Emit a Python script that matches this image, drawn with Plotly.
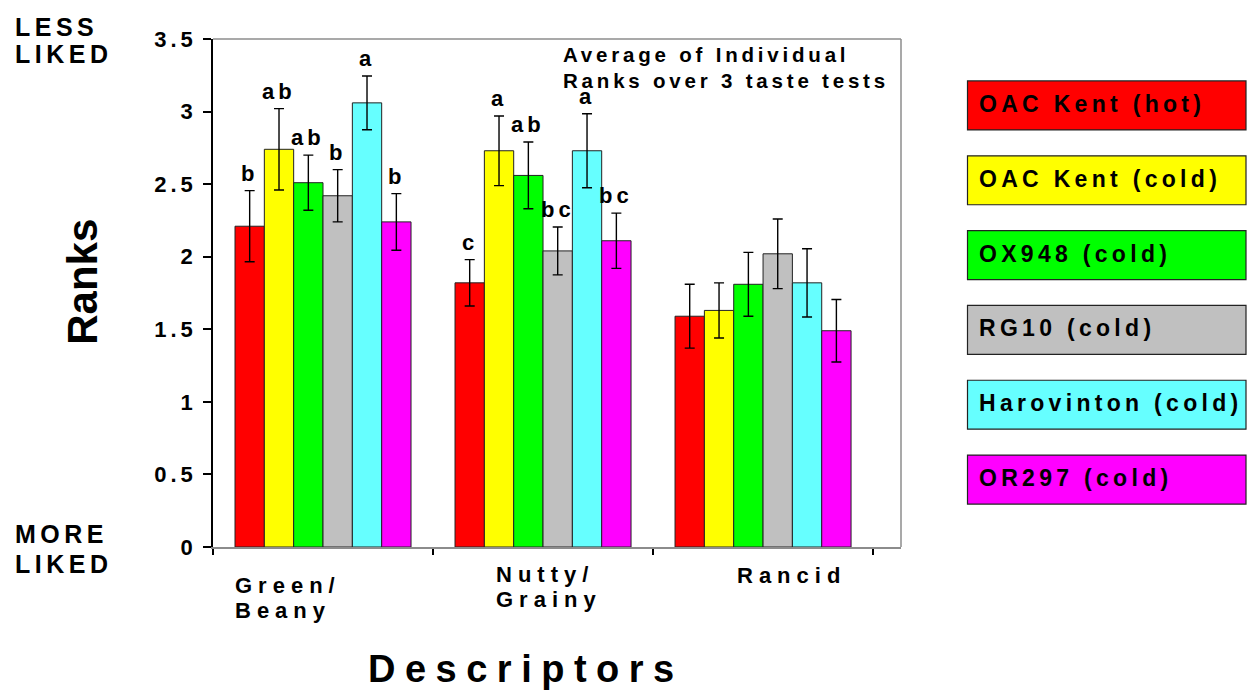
import plotly.graph_objects as go

# ---- data -------------------------------------------------------------
categories = ["Green/ Beany", "Nutty/ Grainy", "Rancid"]
series_names = ["OAC Kent (hot)", "OAC Kent (cold)", "OX948 (cold)",
                "RG10 (cold)", "Harovinton (cold)", "OR297 (cold)"]

oac_kent_hot = [2.21, 1.82, 1.59]
oac_kent_cold = [2.74, 2.73, 1.63]
ox948_cold = [2.51, 2.56, 1.81]
rg10_cold = [2.42, 2.04, 2.02]
harovinton_cold = [3.06, 2.73, 1.82]
or297_cold = [2.24, 2.11, 1.49]

err_oac_kent_hot = [0.245, 0.16, 0.22]
err_oac_kent_cold = [0.28, 0.24, 0.19]
err_ox948_cold = [0.19, 0.23, 0.22]
err_rg10_cold = [0.18, 0.165, 0.24]
err_harovinton_cold = [0.185, 0.255, 0.235]
err_or297_cold = [0.195, 0.19, 0.215]

# significance groupings printed over the bars
sig_oac_kent_hot = ["b", "c", ""]
sig_oac_kent_cold = ["ab", "a", ""]
sig_ox948_cold = ["ab", "ab", ""]
sig_rg10_cold = ["b", "bc", ""]
sig_harovinton_cold = ["a", "a", ""]
sig_or297_cold = ["b", "bc", ""]

y_ticks = [0, 0.5, 1, 1.5, 2, 2.5, 3, 3.5]
y_tick_labels = ["0", "0.5", "1", "1.5", "2", "2.5", "3", "3.5"]

values = [oac_kent_hot, oac_kent_cold, ox948_cold, rg10_cold, harovinton_cold, or297_cold]
errors = [err_oac_kent_hot, err_oac_kent_cold, err_ox948_cold, err_rg10_cold,
          err_harovinton_cold, err_or297_cold]
sig_letters = [sig_oac_kent_hot, sig_oac_kent_cold, sig_ox948_cold, sig_rg10_cold,
               sig_harovinton_cold, sig_or297_cold]

colors = ["#FF0000", "#FFFF00", "#00FF00", "#C0C0C0", "#66FFFF", "#FF00FF"]

# ---- geometry ---------------------------------------------------------
W, H = 1248, 694
L, R, T, B = 213, 901, 39, 547.5
FONT = "Liberation Sans, Arial, Helvetica, sans-serif"
BARGAP = 0.2


def px_x(px):
    return (px - L) / (R - L)


def px_y(py):
    return (B - py) / (B - T)


def spaced(text, px):
    return f'<span style="letter-spacing:{px}px">{text}</span>'


fig = go.Figure()

for name, vals, errs, col in zip(series_names, values, errors, colors):
    fig.add_trace(go.Bar(
        name=name, x=categories, y=vals,
        marker=dict(color=col, line=dict(color="#222222", width=1)),
        error_y=dict(type="data", array=errs, color="black", thickness=1.4, width=5),
    ))

annotations = []


def text_at(txt, x_px, y_px, size, ls, xanchor="left", yanchor="middle", angle=0):
    annotations.append(dict(
        text=spaced(txt, ls) if ls else txt,
        xref="paper", yref="paper", x=px_x(x_px), y=px_y(y_px),
        xanchor=xanchor, yanchor=yanchor, showarrow=False, textangle=angle,
        font=dict(size=size, family=FONT, color="black", weight="bold"),
    ))


# significance letters above the error bars
n_series = len(series_names)
bar_w = (1 - BARGAP) / n_series
for j, (vals, errs, sig) in enumerate(zip(values, errors, sig_letters)):
    for i, (v, e, s) in enumerate(zip(vals, errs, sig)):
        if not s:
            continue
        annotations.append(dict(
            text=spaced(s, 4), xref="x", yref="y",
            x=i - (1 - BARGAP) / 2 + bar_w * (j + 0.5), y=v + e,
            xanchor="center", yanchor="bottom", yshift=3, showarrow=False,
            font=dict(size=22, family=FONT, color="black", weight="bold"),
        ))

# category labels under the axis
cat_label_pos = [(233, 586), (494, 575), (735, 576)]
for cat, (lx, ly) in zip(categories, cat_label_pos):
    for k, line in enumerate(cat.split(" ")):
        text_at(line, lx, ly + 25 * k, 22, 6)

# axis titles and side notes
text_at("Descriptors", 526, 670, 38, 9.5, xanchor="center")
text_at("Ranks", 83, 282, 42, 0, xanchor="center", angle=-90)
text_at("LESS", 13, 27, 25, 4.5)
text_at("LIKED", 13, 54, 25, 4.5)
text_at("MORE", 13, 534, 25, 4.5)
text_at("LIKED", 13, 565, 25, 4.5)
text_at("Average of Individual", 561, 54.5, 20.5, 3.8)
text_at("Ranks over 3 taste tests", 561, 81, 20.5, 3.8)

# boxed key on the right
shapes = []
box_top, box_h, box_pitch = 81, 49, 74.9
for k, (name, col) in enumerate(zip(series_names, colors)):
    top = box_top + box_pitch * k
    shapes.append(dict(
        type="rect", xref="paper", yref="paper",
        x0=px_x(967.5), x1=px_x(1246), y0=px_y(top + box_h), y1=px_y(top),
        fillcolor=col, line=dict(color="#222222", width=1.2), layer="above",
    ))
    text_at(name, 977, top + box_h / 2 - 1.5, 23, 4.3)

# grey frame on top and right of the plotting area
shapes.append(dict(type="line", xref="paper", yref="paper", x0=0, x1=1, y0=1, y1=1,
                   line=dict(color="#8c8c8c", width=1.5), layer="above"))
shapes.append(dict(type="line", xref="paper", yref="paper", x0=1, x1=1, y0=0, y1=1,
                   line=dict(color="#8c8c8c", width=1.5), layer="above"))

fig.update_layout(
    width=W, height=H, autosize=False,
    margin=dict(l=L, r=W - R, t=T, b=H - B, pad=0),
    paper_bgcolor="white", plot_bgcolor="white",
    barmode="group", bargap=BARGAP, bargroupgap=0,
    showlegend=False,
    font=dict(family=FONT, color="black", weight="bold"),
    annotations=annotations, shapes=shapes,
    xaxis=dict(
        type="category", range=[-0.5, 2.627],
        showline=True, linecolor="#8c8c8c", linewidth=1.5,
        ticks="outside", tickson="boundaries", ticklen=6, tickwidth=1.5, tickcolor="black",
        showticklabels=False, showgrid=False, zeroline=False, fixedrange=True,
    ),
    yaxis=dict(
        range=[0, 3.5], tickmode="array", tickvals=y_ticks,
        ticktext=[spaced(t, 4) for t in y_tick_labels],
        tickfont=dict(size=22, family=FONT, color="black", weight="bold"),
        ticks="outside", ticklen=8, tickwidth=1.5, tickcolor="black",
        ticklabelstandoff=2,
        showline=True, linecolor="black", linewidth=1.5,
        showgrid=False, zeroline=False, fixedrange=True,
    ),
)

fig.write_html("out.html")
